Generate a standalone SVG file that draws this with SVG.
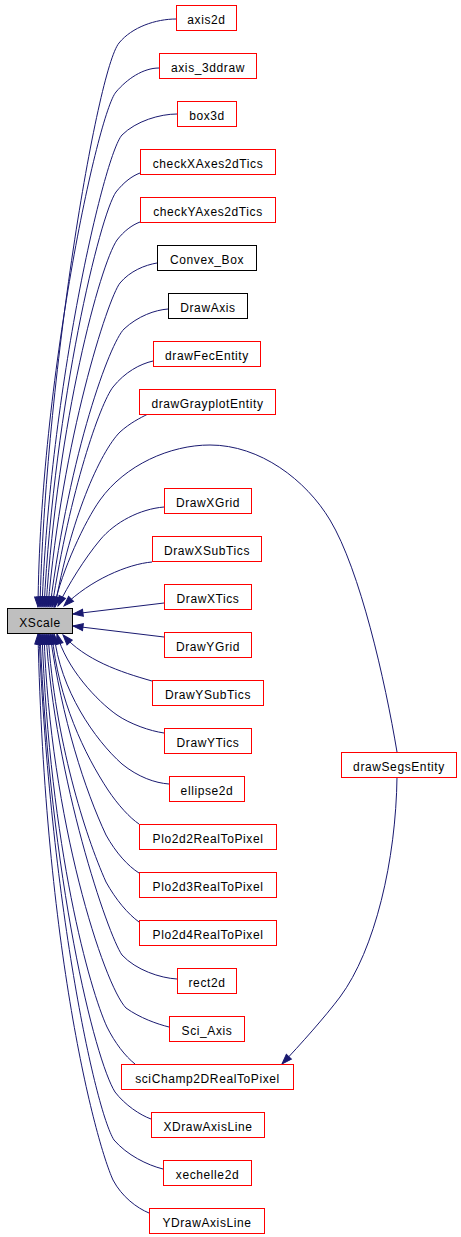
<svg xmlns="http://www.w3.org/2000/svg" width="461" height="1237" viewBox="0 0 461 1237">
<style>
.n rect{fill:#ffffff;stroke:#ff0000;stroke-width:1}
.n.k rect{stroke:#000000}
.n.root rect{fill:#bfbfbf;stroke:#000000}
.n text{font-family:"Liberation Sans",Arial,Helvetica,sans-serif;font-size:12px;letter-spacing:0.6px;fill:#000000;text-anchor:middle}
#edges path{fill:none;stroke:#191970;stroke-width:1;marker-end:url(#ah)}
</style>
<defs>
<marker id="ah" markerUnits="userSpaceOnUse" markerWidth="11" markerHeight="8" refX="10" refY="3.5" orient="auto" overflow="visible">
<path d="M0,0 L10,3.5 L0,7 Z" fill="#191970" stroke="#191970" stroke-width="1"/>
</marker>
</defs>
<rect width="461" height="1237" fill="#ffffff"/>
<g id="edges">
<path d="M176,19 C156,19 132,27 119,43 C97,70 45,380 40,607"/>
<path d="M159,68 C143,68 127,79 116,92 C98,113 40,380 38,607"/>
<path d="M177,114 C160,114 136,121 122,135 C104,155 50,390 42,607"/>
<path d="M140,173 C132,176 124,182 116,192 C100,215 55,400 44,607"/>
<path d="M140,222 C132,225 124,231 117,240 C100,265 58,420 46,607"/>
<path d="M157,263 C145,265 130,271 120,283 C108,298 62,440 48,607"/>
<path d="M168,309 C155,310 138,316 124,329 C110,343 70,450 50,607"/>
<path d="M153,361 C140,364 125,372 113,387 C100,404 70,490 52,607"/>
<path d="M148,414 C140,418 130,423 120,432 C100,452 70,520 55,607"/>
<path d="M397,752 C385,680 360,570 330,520 C306,480 260,445 210,445 C170,445 125,465 100,500 C85,521 62,570 54,607"/>
<path d="M397,777 C396,860 375,950 340,997 C325,1017 300,1045 282,1064"/>
<path d="M164,507 C140,509 115,522 100,540 C85,558 68,585 58,606"/>
<path d="M152,562 C128,564 90,580 64,606"/>
<path d="M164,603 L73,614"/>
<path d="M164,637 L73,626"/>
<path d="M152,681 C120,672 85,660 63,635"/>
<path d="M164,733 C150,731 130,724 117,715 C97,701 66,668 57,634"/>
<path d="M169,784 C155,783 138,777 122,764 C95,740 60,690 54,634"/>
<path d="M139,824 C130,818 118,805 108,790 C85,755 58,700 52,634"/>
<path d="M139,873 C128,866 116,853 106,835 C85,790 62,720 50,634"/>
<path d="M139,922 C128,914 116,900 106,882 C85,835 55,740 48,634"/>
<path d="M177,979 C160,978 136,970 122,955 C108,935 55,780 46,634"/>
<path d="M169,1027 C157,1024 140,1018 126,1008 C104,985 50,820 44,634"/>
<path d="M135,1064 C125,1056 115,1043 107,1027 C90,990 50,850 42,634"/>
<path d="M151,1119 C140,1115 125,1105 115,1092 C95,1060 50,880 40,634"/>
<path d="M163,1169 C147,1165 127,1155 114,1140 C95,1110 50,900 39,634"/>
<path d="M149,1213 C137,1208 122,1197 113,1180 C95,1140 45,950 38,634"/>
</g>
<g id="n_xscale" class="n root"><rect x="7.5" y="608.5" width="65" height="25"/><text x="40" y="627">XScale</text></g>
<g id="n_axis2d" class="n"><rect x="176.5" y="5.5" width="60" height="25"/><text x="206.5" y="24">axis2d</text></g>
<g id="n_axis_3ddraw" class="n"><rect x="159.5" y="53.5" width="97" height="25"/><text x="208" y="72">axis_3ddraw</text></g>
<g id="n_box3d" class="n"><rect x="177.5" y="101.5" width="59" height="25"/><text x="207" y="120">box3d</text></g>
<g id="n_checkX" class="n"><rect x="140.5" y="149.5" width="135" height="25"/><text x="208" y="168">checkXAxes2dTics</text></g>
<g id="n_checkY" class="n"><rect x="140.5" y="197.5" width="135" height="25"/><text x="208" y="216">checkYAxes2dTics</text></g>
<g id="n_convex" class="n k"><rect x="157.5" y="245.5" width="99" height="25"/><text x="207" y="264">Convex_Box</text></g>
<g id="n_drawaxis" class="n k"><rect x="168.5" y="293.5" width="79" height="25"/><text x="208" y="312">DrawAxis</text></g>
<g id="n_drawfec" class="n"><rect x="153.5" y="341.5" width="107" height="25"/><text x="207" y="360">drawFecEntity</text></g>
<g id="n_drawgray" class="n"><rect x="139.5" y="389.5" width="136" height="25"/><text x="207.5" y="408">drawGrayplotEntity</text></g>
<g id="n_drawxgrid" class="n"><rect x="164.5" y="488.5" width="87" height="25"/><text x="208" y="507">DrawXGrid</text></g>
<g id="n_drawxsubtics" class="n"><rect x="152.5" y="536.5" width="109" height="25"/><text x="207" y="555">DrawXSubTics</text></g>
<g id="n_drawxtics" class="n"><rect x="164.5" y="584.5" width="87" height="25"/><text x="208" y="603">DrawXTics</text></g>
<g id="n_drawygrid" class="n"><rect x="164.5" y="632.5" width="87" height="25"/><text x="208" y="651">DrawYGrid</text></g>
<g id="n_drawysubtics" class="n"><rect x="152.5" y="680.5" width="111" height="25"/><text x="208" y="699">DrawYSubTics</text></g>
<g id="n_drawytics" class="n"><rect x="164.5" y="728.5" width="87" height="25"/><text x="208" y="747">DrawYTics</text></g>
<g id="n_ellipse2d" class="n"><rect x="169.5" y="776.5" width="75" height="25"/><text x="207" y="795">ellipse2d</text></g>
<g id="n_plo2d2" class="n"><rect x="139.5" y="824.5" width="137" height="25"/><text x="208" y="843">Plo2d2RealToPixel</text></g>
<g id="n_plo2d3" class="n"><rect x="139.5" y="872.5" width="137" height="25"/><text x="208" y="891">Plo2d3RealToPixel</text></g>
<g id="n_plo2d4" class="n"><rect x="139.5" y="920.5" width="137" height="25"/><text x="208" y="939">Plo2d4RealToPixel</text></g>
<g id="n_rect2d" class="n"><rect x="177.5" y="968.5" width="59" height="25"/><text x="207" y="987">rect2d</text></g>
<g id="n_sci_axis" class="n"><rect x="169.5" y="1016.5" width="75" height="25"/><text x="207" y="1035">Sci_Axis</text></g>
<g id="n_scichamp" class="n"><rect x="121.5" y="1064.5" width="172" height="25"/><text x="207.5" y="1083">sciChamp2DRealToPixel</text></g>
<g id="n_xdrawaxisline" class="n"><rect x="151.5" y="1112.5" width="113" height="25"/><text x="208" y="1131">XDrawAxisLine</text></g>
<g id="n_xechelle2d" class="n"><rect x="163.5" y="1160.5" width="88" height="25"/><text x="207.5" y="1179">xechelle2d</text></g>
<g id="n_ydrawaxisline" class="n"><rect x="149.5" y="1208.5" width="115" height="25"/><text x="207" y="1227">YDrawAxisLine</text></g>
<g id="n_drawsegs" class="n"><rect x="341.5" y="752.5" width="115" height="25"/><text x="399" y="771">drawSegsEntity</text></g>
</svg>
